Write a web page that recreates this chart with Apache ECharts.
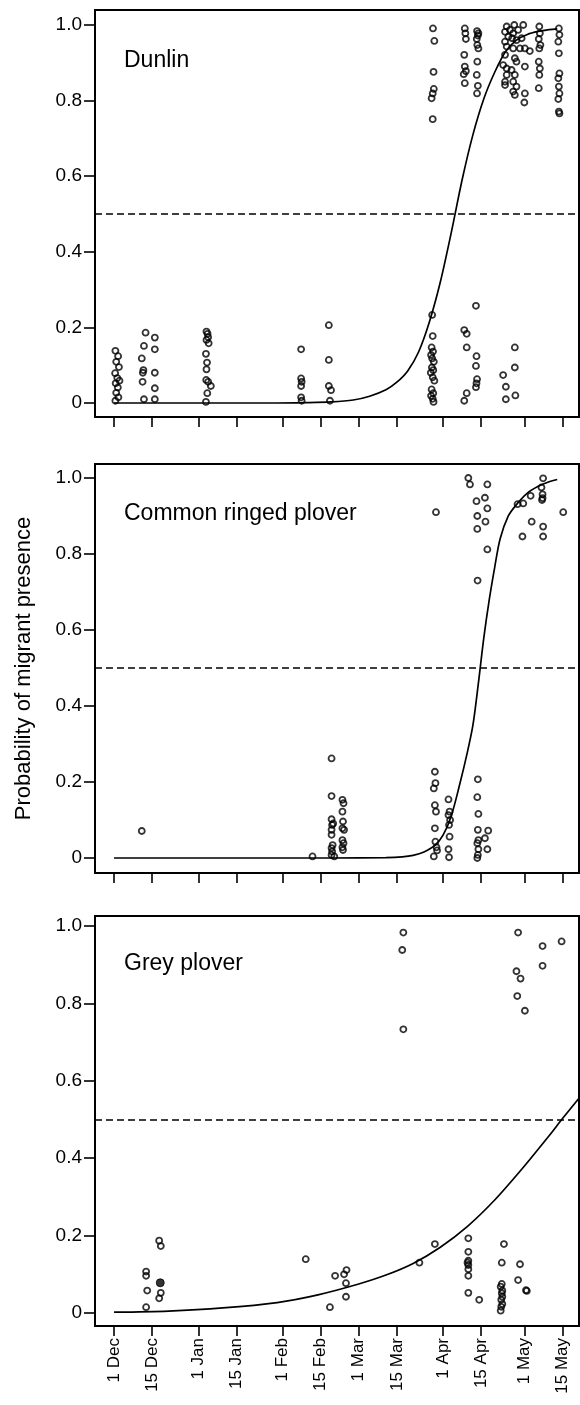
<!DOCTYPE html>
<html>
<head>
<meta charset="utf-8">
<script src="https://cdn.jsdelivr.net/npm/echarts@6/dist/echarts.min.js"></script>
<style>
  html, body { margin: 0; padding: 0; background: #fff; }
  #chart { width: 580px; height: 1405px; }
</style>
</head>
<body>
<div id="chart"></div>
<script>
// x values are days counted from 1 Dec
const tickDays = [0, 14, 31, 45, 62, 76, 90, 104, 121, 135, 151, 165];
const tickLabels = ['1 Dec', '15 Dec', '1 Jan', '15 Jan', '1 Feb', '15 Feb', '1 Mar', '15 Mar', '1 Apr', '15 Apr', '1 May', '15 May'];
const yTicks = [0, 0.2, 0.4, 0.6, 0.8, 1.0];
const species = ['Dunlin', 'Common ringed plover', 'Grey plover'];
const threshold = 0.5;

const dunlinPoints = [
  [0.5, 0.138], [1.5, 0.124], [0.8, 0.109], [1.8, 0.095], [0.4, 0.079], [1.2, 0.066], [2, 0.059], [0.6, 0.052],
  [1.4, 0.041], [0.8, 0.027], [1.6, 0.015], [0.5, 0.006],
  [11.6, 0.186], [11, 0.151], [10.2, 0.118], [10.8, 0.087], [10.6, 0.080], [10.5, 0.056], [11, 0.010],
  [15, 0.173], [15, 0.142], [15, 0.080], [15, 0.039], [15, 0.010],
  [34, 0.189], [34.4, 0.183], [34.6, 0.174], [34, 0.167], [34.8, 0.158], [33.8, 0.130], [34.2, 0.107], [34, 0.089],
  [33.9, 0.061], [34.6, 0.056], [35.6, 0.045], [34.3, 0.026], [33.8, 0.003],
  [68.8, 0.142], [68.8, 0.065], [69, 0.056], [68.8, 0.045], [68.8, 0.015], [69, 0.006],
  [79, 0.206], [79, 0.114], [79, 0.045], [79.8, 0.034], [79.4, 0.006],
  [117, 0.233], [117.2, 0.177], [116.8, 0.147], [117.3, 0.136], [116.6, 0.127], [117, 0.118], [117.6, 0.109],
  [116.9, 0.094], [117.4, 0.087], [116.5, 0.080], [117.2, 0.068], [117.8, 0.059], [116.8, 0.036], [117.4, 0.026],
  [116.6, 0.019], [117.2, 0.011], [117.5, 0.003],
  [133.1, 0.257], [128.8, 0.193], [129.7, 0.183], [129.7, 0.147], [133.3, 0.124], [133.1, 0.098], [133.5, 0.063],
  [133.3, 0.052], [133.1, 0.042], [129.7, 0.026], [128.8, 0.006],
  [147.4, 0.147], [147.4, 0.094], [143.1, 0.074], [144.1, 0.043], [144.1, 0.010], [147.6, 0.020],
  [117.3, 0.991], [117.8, 0.958], [117.5, 0.876], [117.6, 0.831], [117.2, 0.819], [116.8, 0.806], [117.2, 0.751],
  [129, 0.991], [129.2, 0.978], [129.4, 0.963], [128.8, 0.921], [129, 0.890], [129.4, 0.878], [128.6, 0.870], [129, 0.846],
  [133.5, 0.984], [134, 0.978], [133.8, 0.972], [133.4, 0.963], [133.6, 0.947], [134, 0.938], [133.6, 0.903],
  [133.4, 0.868], [133.8, 0.839], [133.5, 0.819],
  [144.4, 0.996], [147.2, 1.0], [150.5, 1.0], [143.8, 0.982], [145.6, 0.987], [146.8, 0.978], [148.6, 0.987],
  [145, 0.969], [146.4, 0.965], [143.8, 0.956], [148, 0.960], [149.9, 0.965], [144.4, 0.943], [146.8, 0.938],
  [149.3, 0.938], [151.1, 0.938], [152.9, 0.931], [143.8, 0.921], [147.4, 0.912], [148, 0.903], [151.1, 0.890],
  [143.1, 0.894], [144.4, 0.885], [146.2, 0.881], [144.4, 0.868], [147.4, 0.868], [143.8, 0.850], [146.8, 0.850],
  [143.8, 0.841], [148, 0.837], [146.8, 0.824], [147.4, 0.815], [151.1, 0.819], [150.9, 0.795],
  [156.4, 0.996], [156.6, 0.978], [156.2, 0.963], [156.8, 0.947], [156.4, 0.938], [156.2, 0.903], [156.6, 0.885],
  [156.4, 0.868], [156.2, 0.833],
  [163.6, 0.991], [163.8, 0.974], [163.4, 0.956], [163.6, 0.925], [163.8, 0.872], [163.4, 0.859], [163.6, 0.837],
  [163.8, 0.819], [163.4, 0.804], [163.6, 0.771], [163.8, 0.766]
];
const dunlinCurve = [
  [0, 0], [20, 0], [40, 0], [60, 0], [70, 0.001], [80, 0.003], [88, 0.008], [94, 0.018], [100, 0.035], [104, 0.055],
  [108, 0.085], [112, 0.135], [116, 0.215], [120, 0.32], [124, 0.45], [128, 0.59], [132, 0.71], [136, 0.805],
  [140, 0.875], [144, 0.93], [148, 0.96], [152, 0.975], [156, 0.983], [160, 0.988], [163, 0.99]
];

const ringedPoints = [
  [10.2, 0.071], [73, 0.004],
  [80, 0.262], [80, 0.163], [80, 0.102], [80.2, 0.087], [80, 0.074], [80, 0.061], [80.4, 0.034], [80, 0.026],
  [80.2, 0.017], [80, 0.008], [81, 0.004], [80.6, 0.091],
  [84, 0.153], [84.4, 0.144], [84, 0.122], [84.2, 0.096], [84, 0.078], [84.6, 0.074], [84, 0.047], [84.4, 0.039],
  [84, 0.028], [84.2, 0.021],
  [118, 0.227], [118.2, 0.197], [117.6, 0.183], [118, 0.139], [118.4, 0.122], [118, 0.078], [118.2, 0.043],
  [118.6, 0.028], [117.6, 0.004], [118.8, 0.02],
  [123, 0.154], [123.4, 0.122], [123, 0.113], [123.6, 0.1], [123.2, 0.087], [123.4, 0.056], [123, 0.023], [123.2, 0.002],
  [133.8, 0.207], [133.6, 0.16], [134, 0.116], [133.8, 0.074], [134, 0.047], [133.6, 0.039], [134, 0.023],
  [133.8, 0.008], [133.6, 0.0], [137.6, 0.072], [136.4, 0.052], [137.3, 0.023],
  [118.4, 0.910], [130.3, 1.0], [130.9, 0.983], [137.3, 0.983], [136.4, 0.948], [133.3, 0.939], [137.3, 0.920],
  [133.6, 0.9], [136.6, 0.885], [133.6, 0.866], [137.3, 0.812], [133.7, 0.730],
  [148.4, 0.931], [150.5, 0.933], [153.2, 0.953], [157.8, 0.999], [157.2, 0.975], [157.6, 0.957], [157.6, 0.947],
  [157.4, 0.942], [165.2, 0.910], [153.6, 0.885], [157.8, 0.872], [150.2, 0.846], [157.8, 0.846]
];
const ringedCurve = [
  [0, 0], [40, 0], [80, 0], [100, 0.001], [106, 0.003], [110, 0.007], [114, 0.016], [118, 0.033], [121, 0.06],
  [124, 0.11], [127, 0.19], [130, 0.28], [132, 0.35], [134, 0.46], [136, 0.58], [138, 0.68], [140, 0.765],
  [142, 0.84], [145, 0.9], [148, 0.93], [152, 0.96], [156, 0.978], [160, 0.99], [163, 0.996]
];

const greyPoints = [
  [11.8, 0.107], [11.8, 0.096], [12.2, 0.058], [11.8, 0.015],
  [16.6, 0.187], [17.2, 0.173], [17.2, 0.052], [16.6, 0.038],
  [70.5, 0.139], [79.4, 0.015], [81.3, 0.096], [84.6, 0.100], [85.5, 0.111], [85.3, 0.077], [85.3, 0.042],
  [112.3, 0.130], [118, 0.178],
  [130.3, 0.193], [130.3, 0.158], [130.3, 0.135], [130, 0.130], [130.3, 0.124], [130.3, 0.113], [130.3, 0.096],
  [130.3, 0.052], [134.3, 0.034],
  [143.4, 0.178], [142.6, 0.130], [142.6, 0.075], [142.2, 0.068], [142.8, 0.058], [142.6, 0.051], [142.8, 0.042],
  [142.4, 0.034], [142.8, 0.023], [142.4, 0.016], [142.2, 0.006],
  [149.3, 0.126], [148.6, 0.085], [151.5, 0.059], [151.8, 0.057],
  [106.4, 0.983], [106, 0.938], [106.4, 0.733],
  [148.6, 0.983], [148, 0.883], [149.5, 0.864], [148.3, 0.819], [151.1, 0.781], [157.6, 0.948], [157.6, 0.897],
  [164.6, 0.960]
];
const greyFilled = [[17, 0.078]];
const greyCurve = [
  [0, 0.002], [20, 0.005], [40, 0.013], [60, 0.027], [75, 0.047], [90, 0.075], [100, 0.098], [110, 0.128],
  [120, 0.17], [130, 0.224], [140, 0.292], [150, 0.372], [160, 0.458], [165, 0.503], [171, 0.555]
];

const FONT = "'Liberation Sans', Arial, Helvetica, sans-serif";

const panels = [
  { points: dunlinPoints, curve: dunlinCurve, top: 10, height: 407, yMin: -0.037, yMax: 1.0397, titleTop: 49 },
  { points: ringedPoints, curve: ringedCurve, top: 464, height: 409, yMin: -0.0395, yMax: 1.0368, titleTop: 502 },
  { points: greyPoints, curve: greyCurve, top: 916, height: 410, yMin: -0.0336, yMax: 1.0258, titleTop: 952 }
];

const chart = echarts.init(document.getElementById('chart'), null, { renderer: 'canvas' });

const grid = [];
const xAxis = [];
const yAxis = [];
const series = [];
const title = [];

panels.forEach((p, i) => {
  grid.push({
    left: 95, top: p.top, width: 484, height: p.height,
    show: true, borderColor: '#000', borderWidth: 2, backgroundColor: 'transparent'
  });

  title.push({
    text: species[i], left: 124, top: p.titleTop, padding: 0,
    textStyle: { fontFamily: FONT, fontSize: 23, fontWeight: 'normal', color: '#000' }
  });

  xAxis.push({
    gridIndex: i, type: 'value', min: -7, max: 171,
    axisLine: { show: false, onZero: false },
    splitLine: { show: false },
    axisTick: { show: true, length: 10, customValues: tickDays, lineStyle: { color: '#000', width: 1.6 } },
    axisLabel: {
      show: i === 2, customValues: tickDays, rotate: 90, margin: 12,
      fontFamily: FONT, fontSize: 17, color: '#000',
      formatter: (v) => tickLabels[tickDays.indexOf(v)] || ''
    }
  });

  yAxis.push({
    gridIndex: i, type: 'value', min: p.yMin, max: p.yMax,
    name: i === 1 ? 'Probability of migrant presence' : '',
    nameLocation: 'middle', nameGap: 60,
    nameTextStyle: { fontFamily: FONT, fontSize: 22, color: '#000' },
    axisLine: { show: false, onZero: false },
    splitLine: { show: false },
    axisTick: { show: true, length: 11, customValues: yTicks, lineStyle: { color: '#000', width: 1.6 } },
    axisLabel: {
      customValues: yTicks, margin: 13, fontFamily: FONT, fontSize: 19, color: '#000',
      formatter: (v) => (v === 0 ? '0' : v.toFixed(1))
    }
  });

  series.push({
    type: 'scatter', xAxisIndex: i, yAxisIndex: i, data: p.points,
    symbol: 'circle', symbolSize: 6,
    itemStyle: { color: 'rgba(0,0,0,0)', borderColor: '#000', borderWidth: 1.8 },
    markLine: {
      silent: true, symbol: ['none', 'none'], label: { show: false },
      lineStyle: { color: '#000', type: [7, 4], width: 1.6 },
      data: [{ yAxis: threshold }]
    }
  });

  series.push({
    type: 'line', xAxisIndex: i, yAxisIndex: i, data: p.curve,
    showSymbol: false, smooth: 0.3,
    lineStyle: { color: '#000', width: 1.7 }
  });
});

series.push({
  type: 'scatter', xAxisIndex: 2, yAxisIndex: 2, data: greyFilled,
  symbol: 'circle', symbolSize: 8,
  itemStyle: { color: '#000', borderColor: '#000', borderWidth: 1 }
});

chart.setOption({
  backgroundColor: '#fff',
  animation: false,
  title,
  grid,
  xAxis,
  yAxis,
  series
});
</script>
</body>
</html>
